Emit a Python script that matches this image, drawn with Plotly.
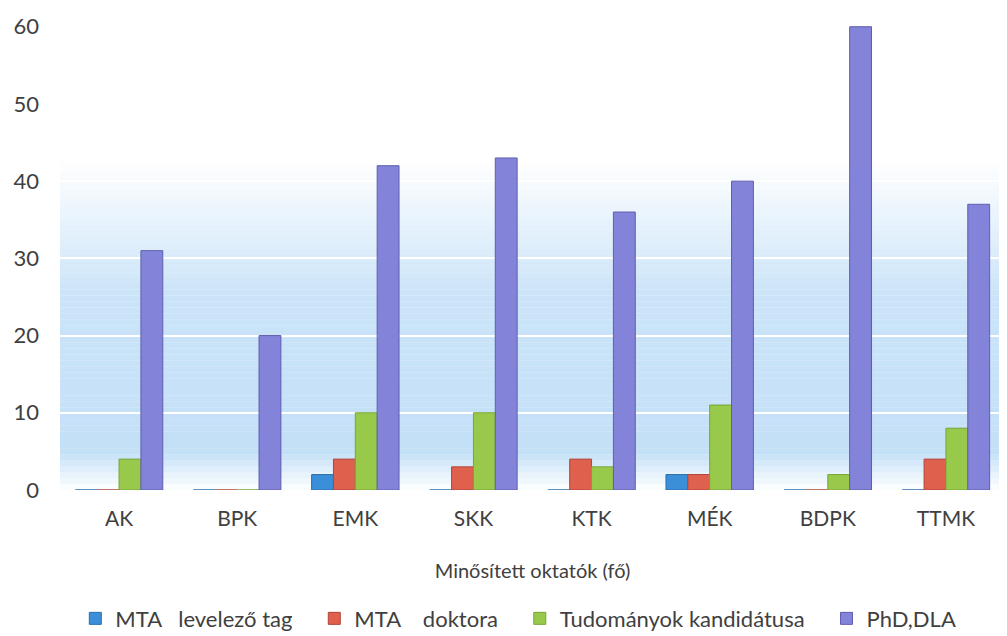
import plotly.graph_objects as go

categories = ["AK", "BPK", "EMK", "SKK", "KTK", "MÉK", "BDPK", "TTMK"]
mta_levelezo = [0, 0, 2, 0, 0, 2, 0, 0]
mta_doktora = [0, 0, 4, 3, 4, 2, 0, 4]
kandidatus = [4, 0, 10, 10, 3, 11, 2, 8]
phd_dla = [31, 20, 42, 43, 36, 40, 60, 37]

series_names = ["MTA\u00a0\u00a0\u00a0levelező tag\u00a0\u00a0\u00a0", "MTA\u00a0\u00a0\u00a0\u00a0doktora\u00a0\u00a0\u00a0",
                "Tudományok kandidátusa\u00a0\u00a0\u00a0", "PhD,DLA"]
series_values = [mta_levelezo, mta_doktora, kandidatus, phd_dla]
colors = ["#3a8fd8", "#e0604e", "#98c94a", "#8383da"]
edge = ["#2a6fae", "#b04438", "#76a536", "#5e5eae"]

x_title = "Minősített oktatók (fő)"
y_ticks = [0, 10, 20, 30, 40, 50, 60]

fig = go.Figure()
for name, vals, c, e in zip(series_names, series_values, colors, edge):
    fig.add_trace(go.Bar(x=categories, y=vals, name=name,
                         marker=dict(color=c, line=dict(color=e, width=1))))

# soft blue gradient background band (paper fraction of plot height)
def alpha(f):
    if f > 0.70:
        return 0.0
    if f > 0.41:
        return (0.70 - f) / 0.29 * 0.75
    if f > 0.08:
        return 0.75 + (0.41 - f) / 0.33 * 0.1
    if f > 0.0:
        return f / 0.08 * 0.85
    return 0.0

shapes = []
n = 80
for i in range(n):
    y0 = i / n
    y1 = (i + 1) / n
    a = alpha((y0 + y1) / 2)
    if a <= 0:
        continue
    shapes.append(dict(type="rect", xref="paper", yref="paper", x0=0, x1=1,
                       y0=y0, y1=y1, fillcolor=f"rgba(185,218,246,{a:.3f})",
                       line=dict(width=0), layer="below"))

fig.update_layout(
    width=1007, height=636,
    margin=dict(l=52, r=10, t=11, b=154),
    paper_bgcolor="white", plot_bgcolor="white",
    barmode="group", bargap=0.26, bargroupgap=0.0,
    font=dict(family="Lato, 'Open Sans', sans-serif", size=18, color="#595959"),
    shapes=shapes,
    showlegend=True,
    legend=dict(orientation="h", x=0.485, xanchor="center", yref="container",
                y=0.04, yanchor="middle",
                font=dict(size=22, color="#404040"), itemwidth=30,
                traceorder="normal"),
    xaxis=dict(title=dict(text=x_title, font=dict(size=20, color="#404040"), standoff=34),
               tickfont=dict(size=21, color="#404040"), showline=False, ticks="",
               showgrid=False, automargin=False, ticklabelstandoff=14),
    yaxis=dict(range=[0, 61], tickvals=y_ticks, showgrid=True, gridcolor="white",
               gridwidth=2, zeroline=False, showline=False, ticks="",
               tickfont=dict(size=22, color="#404040"), ticklabelstandoff=20,
               automargin=False),
)

fig.write_html("out.html")
